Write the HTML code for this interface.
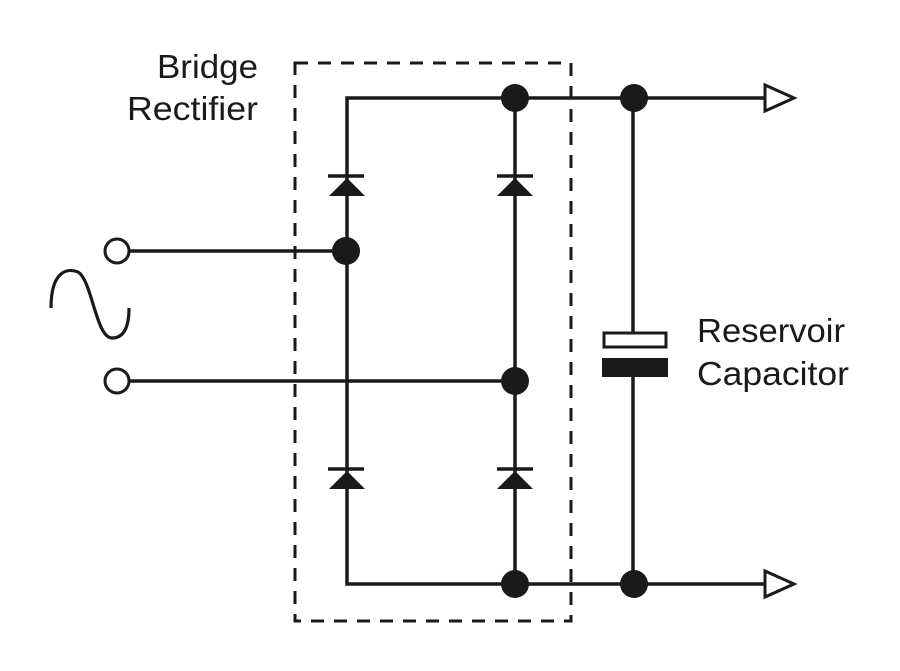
<!DOCTYPE html>
<html><head><meta charset="utf-8"><style>html,body{margin:0;padding:0;background:#fff}svg{display:block}</style></head><body>
<svg width="900" height="671" viewBox="0 0 900 671" xmlns="http://www.w3.org/2000/svg">
<g stroke="#1a1a1a" stroke-width="3.5" fill="none">
<rect x="295" y="63" width="276" height="558" stroke-width="3" stroke-dasharray="13,10"/>
<polyline points="347,251 347,98 765,98"/>
<line x1="515" y1="98" x2="515" y2="584"/>
<polyline points="347,251 347,584 765,584"/>
<line x1="633" y1="98" x2="633" y2="340"/>
<line x1="633" y1="365" x2="633" y2="584"/>
<line x1="129" y1="251" x2="347" y2="251"/>
<line x1="129" y1="381" x2="515" y2="381"/>
<circle cx="117" cy="251" r="12" stroke-width="3"/>
<circle cx="117" cy="381" r="12" stroke-width="3"/>
<path d="M51,308 C51,270 68,268 78,272 C92,280 96,338 112,338 C125,338 129,325 129,308" stroke-width="3.2"/>
<line x1="328" y1="176" x2="364" y2="176"/>
<line x1="497" y1="176" x2="533" y2="176"/>
<line x1="328" y1="469" x2="364" y2="469"/>
<line x1="497" y1="469" x2="533" y2="469"/>
<polygon points="765,85 794,98 765,111" stroke-width="3" fill="#fff"/>
<polygon points="765,571 794,584 765,597" stroke-width="3" fill="#fff"/>
<rect x="604" y="333" width="62" height="14" stroke-width="3" fill="#fff"/>
</g>
<g fill="#1a1a1a">
<polygon points="347,178 329,196 365,196"/>
<polygon points="515,178 497,196 533,196"/>
<polygon points="347,471 329,489 365,489"/>
<polygon points="515,471 497,489 533,489"/>
<rect x="602" y="358" width="66" height="19"/>
<circle cx="515" cy="98" r="14"/>
<circle cx="634" cy="98" r="14"/>
<circle cx="346" cy="251" r="14"/>
<circle cx="515" cy="381" r="14"/>
<circle cx="515" cy="584" r="14"/>
<circle cx="634" cy="584" r="14"/>
</g>
<g font-family="Liberation Sans, sans-serif" font-size="33" fill="#1a1a1a">
<text x="157" y="78" textLength="101" lengthAdjust="spacingAndGlyphs">Bridge</text>
<text x="127" y="120" textLength="131" lengthAdjust="spacingAndGlyphs">Rectifier</text>
<text x="697" y="342" textLength="148" lengthAdjust="spacingAndGlyphs">Reservoir</text>
<text x="697" y="385" textLength="152" lengthAdjust="spacingAndGlyphs">Capacitor</text>
</g>
</svg>
</body></html>
